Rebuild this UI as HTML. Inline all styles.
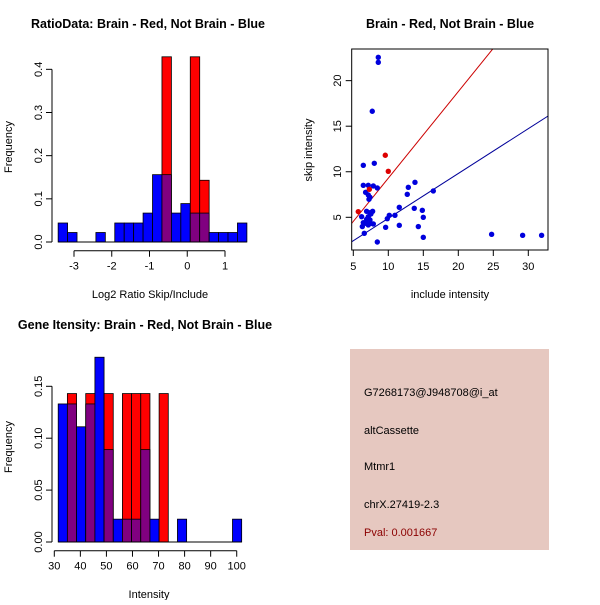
<!DOCTYPE html>
<html><head><meta charset="utf-8"><style>
body{margin:0;background:#fff;}
svg text{font-family:"Liberation Sans",sans-serif;font-size:11px;fill:#000;}
.t{font-weight:bold;font-size:12.5px;}
</style></head><body>
<svg id="s" width="600" height="600" xmlns="http://www.w3.org/2000/svg">
<rect width="600" height="600" fill="#fff"/>
<text class="t" x="148" y="28" text-anchor="middle">RatioData: Brain - Red, Not Brain - Blue</text>
<text class="t" x="450" y="28" text-anchor="middle">Brain - Red, Not Brain - Blue</text>
<text class="t" x="145" y="329" text-anchor="middle">Gene Itensity: Brain - Red, Not Brain - Blue</text>
<text x="150" y="298" text-anchor="middle">Log2 Ratio Skip/Include</text>
<text x="149" y="598" text-anchor="middle">Intensity</text>
<text x="450" y="298" text-anchor="middle">include intensity</text>
<text transform="translate(12,147) rotate(-90)" text-anchor="middle">Frequency</text>
<text transform="translate(12,447) rotate(-90)" text-anchor="middle">Frequency</text>
<text transform="translate(312,150) rotate(-90)" text-anchor="middle">skip intensity</text>
<g>
<rect x="350" y="349" width="199" height="201" fill="#e6c8c0"/>
<text x="364" y="396">G7268173@J948708@i_at</text>
<text x="364" y="434">altCassette</text>
<text x="364" y="470">Mtmr1</text>
<text x="364" y="508">chrX.27419-2.3</text>
<text x="364" y="536" style="fill:#8b0000">Pval: 0.001667</text>
</g>
</svg>
<script>
// Ratio histogram data
const ratioStart=-3.42, ratioWidth=0.25;
const ratioBlue=[0.044,0.022,0,0,0.022,0,0.044,0.044,0.044,0.067,0.156,0.156,0.067,0.089,0.067,0.067,0.022,0.022,0.022,0.044];
const ratioRed=[0,0,0,0,0,0,0,0,0,0,0,0.429,0,0,0.429,0.143,0,0,0,0];
const ratioXTicks=[-3,-2,-1,0,1];
const ratioYTicks=[0,0.1,0.2,0.3,0.4];
// Intensity histogram data
const intStart=31.5, intWidth=3.52;
const intBlue=[0.133,0.133,0.111,0.133,0.178,0.089,0.022,0.022,0.022,0.089,0.022,0,0,0.022,0,0,0,0,0,0.022];
const intRed=[0,0.143,0,0.143,0,0.143,0,0.143,0.143,0.143,0,0.143,0,0,0,0,0,0,0,0];
const intXTicks=[30,40,50,60,70,80,90,100];
const intYTicks=[0,0.05,0.10,0.15];
const intYLabels=["0.00","0.05","0.10","0.15"];
// Scatter data
const blueX=[8.57,8.57,7.71,8.0,6.43,6.43,7.14,7.86,8.43,6.76,7.14,7.38,7.24,6.90,7.38,7.76,7.52,7.14,6.90,7.38,6.19,6.43,6.81,7.14,7.48,7.86,6.29,6.57,8.43,9.62,9.86,10.14,10.95,11.57,11.57,12.71,12.86,13.81,13.71,14.29,14.86,15.0,15.0,16.43,24.76,29.19,31.90];
const blueY=[22.56,22.01,16.64,10.93,10.71,8.51,8.51,8.44,8.22,7.74,7.45,7.20,6.98,5.66,5.51,5.66,5.37,5.07,4.78,4.71,5.07,4.41,4.34,4.16,4.34,4.27,3.98,3.24,2.29,3.90,4.85,5.22,5.22,6.10,4.12,7.52,8.29,8.84,5.99,3.98,5.77,5.0,2.80,7.89,3.13,3.02,3.02];
const redX=[5.71,7.29,9.57,10.0];
const redY=[5.62,8.07,11.81,10.05];
const redLine=[0.95,-0.2]; // slope, intercept
const blueLine=[0.492,-0.03];
const scXTicks=[5,10,15,20,25,30];
const scYTicks=[5,10,15,20];

const NS="http://www.w3.org/2000/svg", svg=document.getElementById('s');
function mk(t,a,p){const e=document.createElementNS(NS,t);for(const k in a)e.setAttribute(k,a[k]);(p||svg).appendChild(e);return e;}

function hist(name,start,w,blue,red,sx,sy,xt,xl,yt,yl,axY,axX){
  const g=mk('g',{});
  
  
  for(let i=0;i<blue.length;i++){
    const x0=sx(start+i*w), x1=sx(start+(i+1)*w), b=blue[i], r=red[i];
    const hi=Math.max(b,r), lo=Math.min(b,r);
    if(hi>0){const c=r>b?'#ff0000':'#0000ff';
      const e=mk('rect',{x:x0,y:sy(hi),width:x1-x0,height:sy(0)-sy(hi),fill:c,stroke:'#000','stroke-width':0.8},g);
      
      }
    if(lo>0){const e=mk('rect',{x:x0,y:sy(lo),width:x1-x0,height:sy(0)-sy(lo),fill:'#800080',stroke:'#000','stroke-width':0.8},g);
      
      }
  }
  mk('line',{x1:sx(start),x2:sx(start+blue.length*w),y1:sy(0),y2:sy(0),stroke:'#000'},g);
  mk('line',{x1:sx(xt[0]),x2:sx(xt[xt.length-1]),y1:axX,y2:axX,stroke:'#000'},g);
  xt.forEach((v,i)=>{mk('line',{x1:sx(v),x2:sx(v),y1:axX,y2:axX+6,stroke:'#000'},g);
    const t=mk('text',{x:sx(v),y:axX+19,'text-anchor':'middle'},g);t.textContent=xl[i];
    
    });
  mk('line',{x1:axY,x2:axY,y1:sy(yt[0]),y2:sy(yt[yt.length-1]),stroke:'#000'},g);
  yt.forEach((v,i)=>{mk('line',{x1:axY-6,x2:axY,y1:sy(v),y2:sy(v),stroke:'#000'},g);
    const t=mk('text',{transform:`translate(${axY-10},${sy(v)}) rotate(-90)`,'text-anchor':'middle'},g);t.textContent=yl[i];
    
    });
}
hist('ratio-histogram',ratioStart,ratioWidth,ratioBlue,ratioRed,v=>74+(v+3)*37.75,v=>242-v*431.7,ratioXTicks,ratioXTicks.map(String),ratioYTicks,ratioYTicks.map(v=>v.toFixed(1)),52,250.7);
hist('intensity-histogram',intStart,intWidth,intBlue,intRed,v=>54.3+(v-30)*2.606,v=>542-v*1038,intXTicks,intXTicks.map(String),intYTicks,intYLabels,52,550.7);

// scatter
const sx=v=>353.3+(v-5)*7, sy=v=>217.3-(v-5)*9.11;
const gs=mk('g',{});


const cp=mk('clipPath',{id:'cp'},gs);mk('rect',{x:351.7,y:49,width:196.3,height:201},cp);
function line(p,c,n){const x0=4.7,x1=33;const e=mk('line',{x1:sx(x0),y1:sy(p[0]*x0+p[1]),x2:sx(x1),y2:sy(p[0]*x1+p[1]),stroke:c,'clip-path':'url(#cp)'},gs);
  
  }
line(redLine,'#cc0000','red-fit-line');line(blueLine,'#000099','blue-fit-line');
blueX.forEach((v,i)=>{const e=mk('circle',{cx:sx(v),cy:sy(blueY[i]),r:2.7,fill:'#0000dd'},gs);
  
  });
redX.forEach((v,i)=>{const e=mk('circle',{cx:sx(v),cy:sy(redY[i]),r:2.7,fill:'#dd0000'},gs);
  
  });
mk('rect',{x:351.7,y:49,width:196.3,height:201,fill:'none',stroke:'#000'},gs);
scXTicks.forEach(v=>{mk('line',{x1:sx(v),x2:sx(v),y1:250,y2:256,stroke:'#000'},gs);
  const t=mk('text',{x:sx(v),y:270,'text-anchor':'middle'},gs);t.textContent=v;
  
  });
scYTicks.forEach(v=>{mk('line',{x1:345.7,x2:351.7,y1:sy(v),y2:sy(v),stroke:'#000'},gs);
  const t=mk('text',{transform:`translate(341,${sy(v)}) rotate(-90)`,'text-anchor':'middle'},gs);t.textContent=v;
  
  });
</script>
</body></html>
